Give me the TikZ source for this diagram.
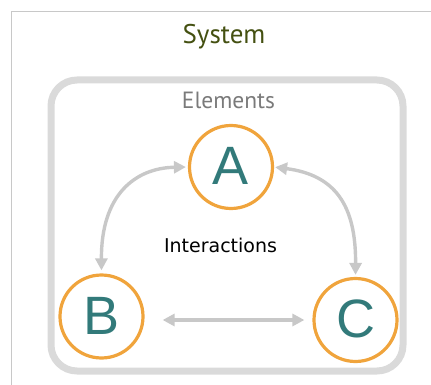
\documentclass[tikz,border=0pt]{standalone}
\usepackage{fontspec}
\setmainfont{Liberation Sans}
\newfontfamily\titlefont{PT Sans}
\newfontfamily\labelfont{DejaVu Sans}
\usetikzlibrary{arrows.meta}
\definecolor{olive}{HTML}{445011}
\definecolor{framegrey}{HTML}{C8C8C8}
\definecolor{boxgrey}{HTML}{DADADA}
\definecolor{textgrey}{HTML}{7A7A7A}
\definecolor{ringorange}{HTML}{F0A43C}
\definecolor{letterteal}{HTML}{327A7A}
\definecolor{linkgrey}{HTML}{C8C8C8}
\tikzset{
  element/.style={circle, draw=ringorange, line width=3.2pt, minimum size=83pt,
    inner sep=0pt, text=letterteal, font=\fontsize{54}{54}\selectfont},
  link/.style={draw=linkgrey, line width=3.4pt,
    {Triangle[length=12pt,width=12pt]}-{Triangle[length=12pt,width=12pt]}},
}
\begin{document}
\begin{tikzpicture}[x=1pt,y=-1pt]
\useasboundingbox (0,0) rectangle (431,385);
% outer frame
\draw[framegrey, line width=1pt] (11,385) -- (11,12) -- (431,12);
\node (title) at (224,37) {\titlefont\color{olive}\fontsize{27}{27}\selectfont System};
% elements container
\draw[boxgrey, line width=7pt, rounded corners=26pt] (51,80) rectangle (403,371);
\node (elements) at (228.5,100) {\titlefont\color{textgrey}\fontsize{23.5}{23.5}\selectfont Elements};
% elements
\node[element] (A) at (231,167) {\raisebox{2pt}{A}};
\node[element] (B) at (101.5,316.5) {\raisebox{2pt}{B}};
\node[element] (C) at (355.5,320) {\raisebox{2pt}{C}};
\node (inter) at (220.5,245) {\labelfont\fontsize{19}{19}\selectfont Interactions};
% interactions
\draw[link, shorten <=3pt, shorten >=2pt] (B.north) .. controls (101,195) and (135,168) .. (A.west);
\draw[link, shorten <=1pt, shorten >=2pt] (A.east) .. controls (335,175) and (356,205) .. (C.north);
\draw[link] ([xshift=18pt]B.east |- C.west) -- ([xshift=-8pt]C.west);
\end{tikzpicture}
\end{document}
